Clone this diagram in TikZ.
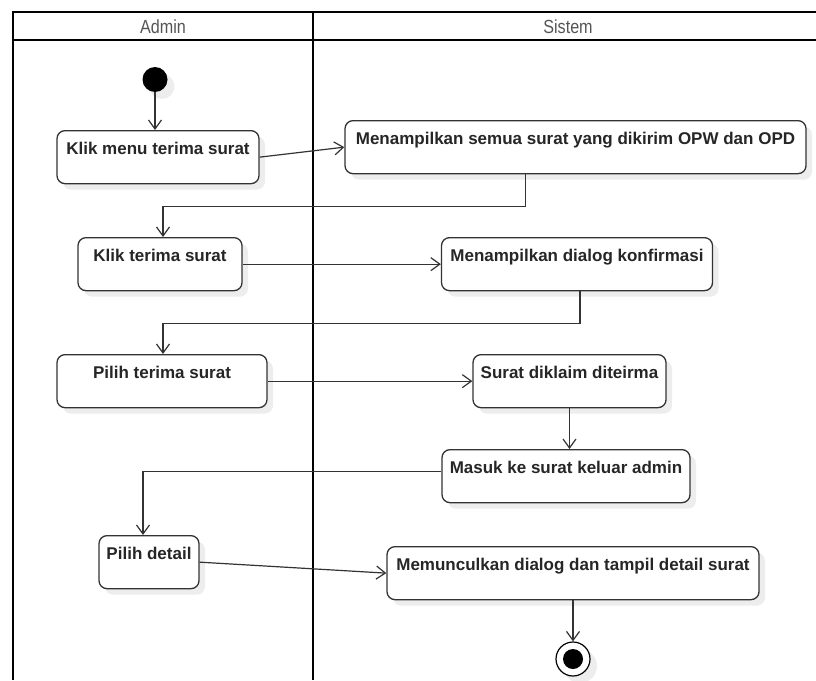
\documentclass[tikz,border=0pt]{standalone}
\usepackage{fontspec}
\setmainfont{Liberation Sans}
\usetikzlibrary{arrows.meta,shadows}
\definecolor{edge}{HTML}{333333}
\definecolor{lbl}{HTML}{555555}
\newcommand{\lanetitle}[1]{\scalebox{0.85}[1]{#1}}

\begin{document}
\begin{tikzpicture}[x=1pt,y=-1pt,
  >={Straight Barb[length=9pt,width=13pt]},
  act/.style={draw=edge,line width=1.3pt,rounded corners=8pt,fill=white,
    drop shadow={shadow xshift=6pt,shadow yshift=-6pt,fill=black!7,opacity=1},
    minimum height=53pt,inner xsep=2pt,inner ysep=5pt,text height=19pt,text depth=24pt,
    anchor=north,font=\bfseries\fontsize{17}{20}\selectfont,text=black!85},
  initnode/.style={circle,fill=black,minimum size=25pt,inner sep=0pt,
    drop shadow={shadow xshift=7pt,shadow yshift=-7pt,fill=black!7,opacity=1}},
  finalnode/.style={circle,draw=black,line width=1.2pt,fill=white,minimum size=34pt,inner sep=0pt,
    drop shadow={shadow xshift=7pt,shadow yshift=-7pt,fill=black!7,opacity=1}},
  hdr/.style={font=\fontsize{19}{21}\selectfont,text=lbl},
  lane/.style={line width=2pt},
  flow/.style={->,draw=edge,line width=1.2pt}]
  \useasboundingbox (0,0) rectangle (816,680);
  % swimlanes
  \draw[lane] (13,680) -- (13,12) -- (816,12);
  \draw[lane] (13,40) -- (816,40);
  \draw[lane] (313,12) -- (313,680);
  \node[hdr] (adm) at (163,27) {\lanetitle{Admin}};
  \node[hdr] (sys) at (568,27) {\lanetitle{Sistem}};
  % activities
  \node[initnode] (mulai) at (155,79.5) {};
  \node[act,minimum width=202pt] (klik) at (158,130) {Klik menu terima surat};
  \node[act,minimum width=461pt] (tampil) at (575.5,120) {Menampilkan semua surat yang dikirim OPW dan OPD};
  \node[act,minimum width=164pt] (terima) at (160,237) {Klik terima surat};
  \node[act,minimum width=271pt] (dialog) at (577,237) {Menampilkan dialog konfirmasi};
  \node[act,minimum width=210pt] (pilih) at (162,354) {Pilih terima surat};
  \node[act,minimum width=193pt] (klaim) at (569.5,354) {Surat diklaim diteirma};
  \node[act,minimum width=248pt] (masuk) at (566,449) {Masuk ke surat keluar admin};
  \node[act,minimum width=100pt] (detail) at (149,535) {Pilih detail};
  \node[act,minimum width=372pt] (muncul) at (573,546) {Memunculkan dialog dan tampil detail surat};
  \node[finalnode] (selesai) at (573,659) {};
  \fill (selesai.center) circle (10pt);
  % flows
  \draw[flow] (mulai) -- (mulai |- klik.north);
  \draw[flow] (klik.east) -- (tampil.west);
  \draw[flow] ([xshift=-50pt]tampil.south) -- ++(0,32) -| ([xshift=3pt]terima.north);
  \draw[flow] (terima.east) -- (dialog.west);
  \draw[flow] ([xshift=3pt]dialog.south) -- ++(0,32) -| ([xshift=1pt]pilih.north);
  \draw[flow] (pilih.east) -- (klaim.west);
  \draw[flow] (klaim.south) -- (klaim.south |- masuk.north);
  \draw[flow] ([yshift=5pt]masuk.west) -| ([xshift=-6pt]detail.north);
  \draw[flow] (detail.east) -- (muncul.west);
  \draw[flow] (muncul.south) -- (selesai);
\end{tikzpicture}
\end{document}
